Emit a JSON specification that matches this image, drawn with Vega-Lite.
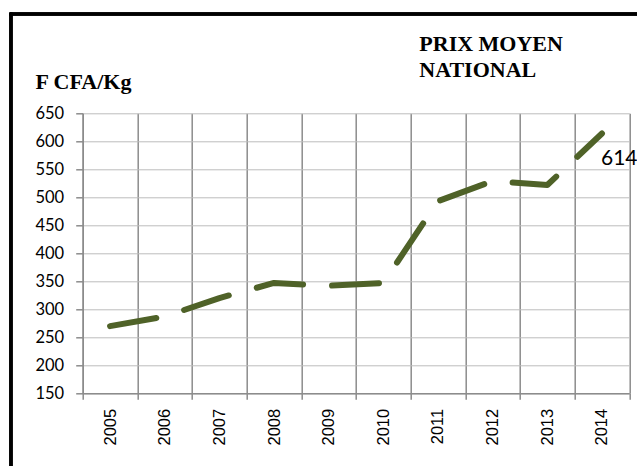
{
  "$schema": "https://vega.github.io/schema/vega-lite/v6.json",
  "autosize": {"type": "none"},
  "width": 546.6,
  "height": 280,
  "padding": {"left": 82.7, "top": 113.3, "right": 7.7, "bottom": 72.7},
  "background": "white",
  "config": {"view": {"stroke": null}},
  "title": {
    "text": ["PRIX MOYEN", "NATIONAL"],
    "anchor": "start",
    "frame": "group",
    "dx": 336.6,
    "dy": 70,
    "offset": 0,
    "font": "Liberation Serif",
    "fontSize": 22,
    "fontWeight": "bold",
    "lineHeight": 26,
    "color": "black"
  },
  "data": {
    "values": [
      {"year": 2005, "price": 270},
      {"year": 2006, "price": 287},
      {"year": 2007, "price": 320},
      {"year": 2008, "price": 347},
      {"year": 2009, "price": 342},
      {"year": 2010, "price": 347},
      {"year": 2011, "price": 493},
      {"year": 2012, "price": 529},
      {"year": 2013, "price": 522},
      {"year": 2014, "price": 614}
    ]
  },
  "encoding": {
    "x": {
      "field": "year", "type": "quantitative",
      "scale": {"domain": [2004.5, 2014.5], "nice": false, "zero": false},
      "axis": {
        "title": null,
        "values": [2004.5, 2005, 2005.5, 2006, 2006.5, 2007, 2007.5, 2008, 2008.5, 2009, 2009.5, 2010, 2010.5, 2011, 2011.5, 2012, 2012.5, 2013, 2013.5, 2014, 2014.5],
        "format": ".1f",
        "labelExpr": "floor(datum.value) == datum.value ? format(datum.value, 'd') : ''",
        "labelAngle": -90,
        "labelAlign": "right",
        "labelBaseline": "middle",
        "labelOverlap": false,
        "labelFlush": false,
        "labelFont": "Liberation Sans",
        "labelFontSize": 16.5,
        "labelColor": "black",
        "labelPadding": 9,
        "grid": true,
        "gridColor": "#8C8C8C",
        "gridWidth": 1.5,
        "gridOpacity": {"condition": {"test": "floor(datum.value) == datum.value", "value": 0}, "value": 1},
        "tickOpacity": {"condition": {"test": "floor(datum.value) == datum.value", "value": 0}, "value": 1},
        "tickColor": "#8C8C8C",
        "tickWidth": 1.5,
        "tickSize": 6,
        "domainColor": "#8C8C8C",
        "domainWidth": 1.5
      }
    },
    "y": {
      "field": "price", "type": "quantitative",
      "scale": {"domain": [150, 650], "nice": false, "zero": false},
      "axis": {
        "title": "F CFA/Kg",
        "titleAngle": 0,
        "titleAlign": "left",
        "titleBaseline": "alphabetic",
        "titleX": -47.7,
        "titleY": -25,
        "titleFont": "Liberation Serif",
        "titleFontSize": 22,
        "titleFontWeight": "bold",
        "titleColor": "black",
        "values": [150, 200, 250, 300, 350, 400, 450, 500, 550, 600, 650],
        "labelOverlap": false,
        "labelFlush": false,
        "labelFont": "Lato",
        "labelFontSize": 16.5,
        "labelColor": "black",
        "labelPadding": 12,
        "tickSize": 7,
        "tickColor": "#8C8C8C",
        "tickWidth": 1.5,
        "domainColor": "#8C8C8C",
        "domainWidth": 1.5,
        "grid": true,
        "gridColor": "#BDBDBD",
        "gridWidth": 1
      }
    }
  },
  "layer": [
    {
      "mark": {"type": "line", "color": "#4F6228", "strokeWidth": 6, "strokeCap": "round", "strokeJoin": "round", "strokeDash": [47, 29]}
    },
    {
      "transform": [{"filter": "datum.year === 2014"}],
      "mark": {"type": "text", "align": "left", "baseline": "alphabetic", "dx": -1, "dy": 31.7, "font": "Lato", "fontSize": 21, "color": "black"},
      "encoding": {
        "text": {"field": "price", "type": "quantitative"}
      }
    },
    {
      "mark": {"type": "rule", "color": "black", "strokeWidth": 2.5, "strokeCap": "square"},
      "encoding": {
        "x": {"datum": 2003.188, "type": "quantitative"},
        "y": {"datum": 827.3, "type": "quantitative"},
        "y2": {"datum": -100}
      }
    },
    {
      "mark": {"type": "rule", "color": "black", "strokeWidth": 2.5, "strokeCap": "square"},
      "encoding": {
        "x": {"datum": 2003.188, "type": "quantitative"},
        "x2": {"datum": 2020},
        "y": {"datum": 827.3, "type": "quantitative"}
      }
    }
  ]
}
